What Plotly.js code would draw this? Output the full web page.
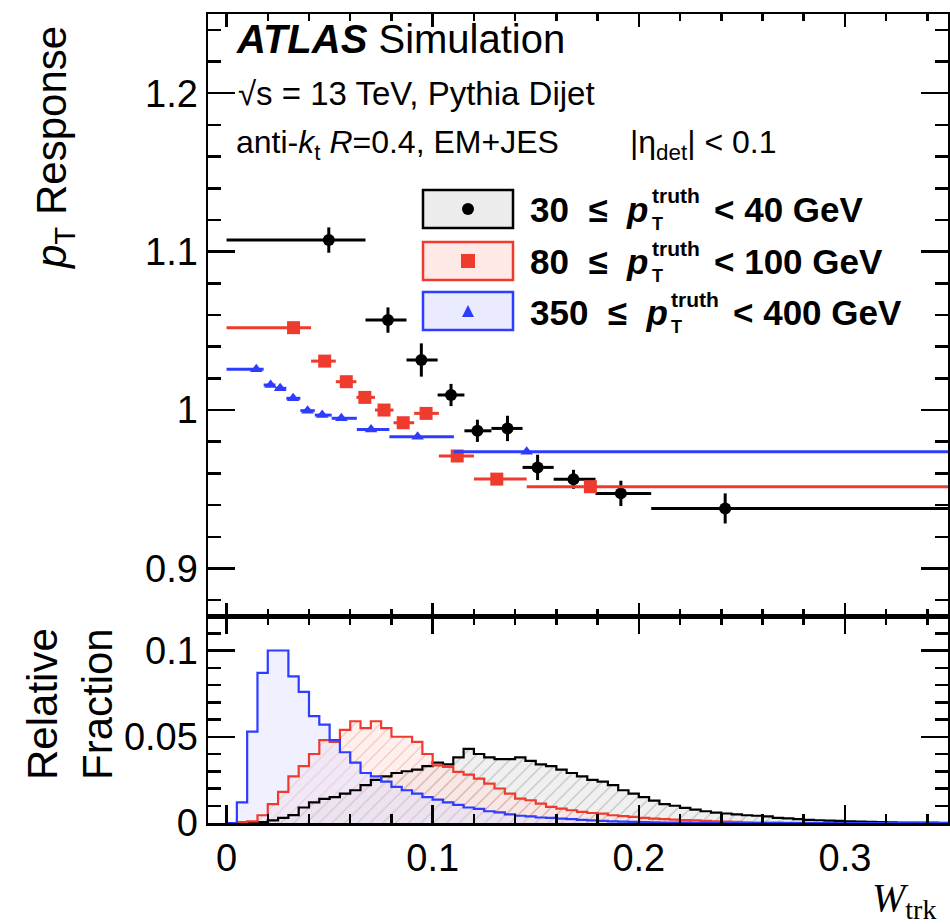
<!DOCTYPE html>
<html>
<head>
<meta charset="utf-8">
<script src="https://cdn.plot.ly/plotly-3.0.1.min.js"></script>
<style>
  html, body { margin: 0; padding: 0; background: #fff; }
  #chart { width: 950px; height: 924px; }
</style>
</head>
<body>
<div id="chart"></div>
<script>
// ---- pT response vs W_trk, three truth-pT bins ----
const seriesNames = ['30 ≤ p_T^truth < 40 GeV', '80 ≤ p_T^truth < 100 GeV', '350 ≤ p_T^truth < 400 GeV'];

// 30 <= pT < 40 GeV
const lowX     = [0.0496, 0.0783, 0.0945, 0.1089, 0.1217, 0.1363, 0.1509, 0.1683, 0.1913, 0.2419];
const lowY     = [1.1073, 1.0568, 1.0316, 1.0095, 0.9869, 0.9884, 0.9638, 0.9563, 0.9474, 0.9379];
const lowYErr  = [0.008, 0.008, 0.0105, 0.007, 0.007, 0.008, 0.008, 0.006, 0.008, 0.0095];
const lowBinLo = [0.0, 0.0674, 0.0873, 0.1024, 0.1154, 0.1285, 0.1436, 0.1587, 0.179, 0.206];
const lowBinHi = [0.0674, 0.0873, 0.1024, 0.1154, 0.1285, 0.1436, 0.1587, 0.179, 0.206, 0.40];

// 80 <= pT < 100 GeV
const midX     = [0.0325, 0.0476, 0.0581, 0.0671, 0.0764, 0.0857, 0.0968, 0.1119, 0.1311, 0.1765];
const midY     = [1.0520, 1.0309, 1.0179, 1.0080, 1.0000, 0.9920, 0.9979, 0.9710, 0.9564, 0.9516];
const midBinLo = [0.0, 0.041, 0.053, 0.063, 0.072, 0.081, 0.091, 0.103, 0.120, 0.1456];
const midBinHi = [0.041, 0.053, 0.063, 0.072, 0.081, 0.091, 0.103, 0.120, 0.1456, 0.40];

// 350 <= pT < 400 GeV
const highX     = [0.0144, 0.0214, 0.0260, 0.0323, 0.0393, 0.0464, 0.0557, 0.0701, 0.0927, 0.1456];
const highY     = [1.0257, 1.0158, 1.0137, 1.0074, 0.9996, 0.9968, 0.9948, 0.9878, 0.9831, 0.9737];
const highBinLo = [0.0, 0.018, 0.0237, 0.029, 0.0358, 0.0428, 0.051, 0.0632, 0.079, 0.1103];
const highBinHi = [0.018, 0.0237, 0.029, 0.0358, 0.0428, 0.051, 0.0632, 0.079, 0.1103, 0.40];

// ---- relative fraction of jets per W_trk bin (bin width 0.005, from 0) ----
const fracBinWidth = 0.005;
const fracLow = [0, 0, 0, 0.0005, 0.0015, 0.003, 0.0046, 0.009, 0.012, 0.014,
  0.015, 0.017, 0.019, 0.022, 0.025, 0.027, 0.029, 0.030, 0.031, 0.033,
  0.035, 0.034, 0.038, 0.043, 0.040, 0.038, 0.037, 0.037, 0.038, 0.036,
  0.034, 0.033, 0.031, 0.029, 0.027, 0.025, 0.024, 0.022, 0.019, 0.017,
  0.015, 0.013, 0.011, 0.010, 0.0088, 0.0078, 0.0068, 0.006, 0.0055, 0.005,
  0.0045, 0.0042, 0.0038, 0.003, 0.0027, 0.0022, 0.0018, 0.0016, 0.0014, 0.0012,
  0.001, 0.0008, 0.0007, 0.0005, 0.0004, 0.0003, 0.0003, 0.0002, 0.0002, 0.0001];
const fracMid = [0, 0.0005, 0.001, 0.0045, 0.011, 0.018, 0.027, 0.033, 0.040, 0.048,
  0.047, 0.054, 0.059, 0.055, 0.059, 0.055, 0.050, 0.050, 0.047, 0.040,
  0.0334, 0.0325, 0.0296, 0.028, 0.0257, 0.0228, 0.020, 0.017, 0.0141, 0.0132,
  0.0112, 0.0093, 0.0083, 0.0074, 0.0064, 0.0058, 0.0054, 0.0045, 0.004, 0.0035,
  0.003, 0.0025, 0.0022, 0.002, 0.0017, 0.0015, 0.0012, 0.001, 0.0008, 0.0006,
  0.0004, 0.0003, 0.0002, 0.0002, 0.0001, 0.0001, 0.0001, 0, 0, 0,
  0, 0, 0, 0, 0, 0, 0, 0, 0, 0];
const fracHigh = [0, 0.012, 0.053, 0.087, 0.100, 0.100, 0.085, 0.076, 0.062, 0.057,
  0.048, 0.041, 0.035, 0.029, 0.027, 0.024, 0.021, 0.019, 0.017, 0.015,
  0.0135, 0.012, 0.0105, 0.009, 0.0082, 0.0068, 0.0062, 0.005, 0.0042, 0.0038,
  0.0032, 0.003, 0.0025, 0.0022, 0.0018, 0.0015, 0.0012, 0.001, 0.0008, 0.0006,
  0.0005, 0.0004, 0.0003, 0.0002, 0.0002, 0.0001, 0.0001, 0, 0, 0,
  0, 0, 0, 0, 0, 0, 0, 0, 0, 0,
  0, 0, 0, 0, 0, 0, 0, 0, 0, 0];

// ---- styling ----
const BLACK = '#000000', RED = '#ee3b2e', BLUE = '#2d3cff';
const FONT = 'Liberation Sans, Arial, Helvetica, sans-serif';

function errPlus(x, hi) { return x.map((v, i) => hi[i] - v); }
function errMinus(x, lo) { return x.map((v, i) => v - lo[i]); }

// step outline of a histogram: bin low edges plus the closing edge
function stepXY(vals) {
  const xs = vals.map((_, i) => i * fracBinWidth);
  xs.push(vals.length * fracBinWidth);
  const ys = vals.slice();
  ys.push(vals[vals.length - 1]);
  return { xs, ys };
}
function stepFill(vals, fillcolor, pattern) {
  const s = stepXY(vals);
  const t = {
    x: s.xs, y: s.ys, xaxis: 'x', yaxis: 'y2', type: 'scatter', mode: 'lines',
    line: { shape: 'hv', width: 0, color: 'rgba(0,0,0,0)' },
    fill: 'tozeroy', fillcolor: fillcolor, hoverinfo: 'skip', showlegend: false
  };
  if (pattern) t.fillpattern = pattern;
  return t;
}
function stepLine(vals, color) {
  const s = stepXY(vals);
  return {
    x: s.xs, y: s.ys, xaxis: 'x', yaxis: 'y2', type: 'scatter', mode: 'lines',
    line: { shape: 'hv', color: color, width: 2.2 }, hoverinfo: 'skip', showlegend: false
  };
}

const traces = [
  stepFill(fracLow, 'rgba(236,236,236,0.8)',
    { shape: '/', bgcolor: 'rgba(236,236,236,0.8)', fgcolor: 'rgba(120,120,120,0.45)', size: 9, solidity: 0.12 }),
  stepFill(fracMid, 'rgba(255,222,218,0.45)',
    { shape: '/', bgcolor: 'rgba(255,222,218,0.45)', fgcolor: 'rgba(220,90,80,0.35)', size: 9, solidity: 0.12 }),
  stepFill(fracHigh, 'rgba(222,222,255,0.45)', null),
  stepLine(fracLow, BLACK),
  stepLine(fracMid, RED),
  stepLine(fracHigh, BLUE),

  { // 30-40 GeV response
    x: lowX, y: lowY, xaxis: 'x2', yaxis: 'y', type: 'scatter', mode: 'markers', name: seriesNames[0],
    marker: { symbol: 'circle', size: 12, color: BLACK },
    error_x: { type: 'data', symmetric: false, array: errPlus(lowX, lowBinHi), arrayminus: errMinus(lowX, lowBinLo),
               thickness: 3, width: 0, color: BLACK },
    error_y: { type: 'data', array: lowYErr, thickness: 3, width: 0, color: BLACK },
    showlegend: false
  },
  { // 80-100 GeV response
    x: midX, y: midY, xaxis: 'x2', yaxis: 'y', type: 'scatter', mode: 'markers', name: seriesNames[1],
    marker: { symbol: 'square', size: 13, color: RED },
    error_x: { type: 'data', symmetric: false, array: errPlus(midX, midBinHi), arrayminus: errMinus(midX, midBinLo),
               thickness: 3, width: 0, color: RED },
    showlegend: false
  },
  { // 350-400 GeV response
    x: highX, y: highY, xaxis: 'x2', yaxis: 'y', type: 'scatter', mode: 'markers', name: seriesNames[2],
    marker: { symbol: 'triangle-up', size: 11, color: BLUE },
    error_x: { type: 'data', symmetric: false, array: errPlus(highX, highBinHi), arrayminus: errMinus(highX, highBinLo),
               thickness: 3, width: 0, color: BLUE },
    showlegend: false
  }
];

// ---- layout helpers (pixel -> paper) ----
const ML = 208, MT = 14, PW = 740, PH = 809, FIGH = 924;
const px = v => (v - ML) / PW;
const py = v => (MT + PH - v) / PH;

function txt(text, x, y, size, opts) {
  return Object.assign({
    text: text, xref: 'paper', yref: 'paper', x: px(x), y: py(y),
    xanchor: 'left', yanchor: 'middle', showarrow: false,
    font: { family: FONT, size: size, color: '#000' }
  }, opts || {});
}

const bottomFrac = 207 / 809;
const axisCommon = {
  showline: true, linecolor: '#000', linewidth: 2.5, mirror: 'allticks',
  ticks: 'inside', tickcolor: '#000', tickwidth: 2.5, showgrid: false, zeroline: false,
  tickfont: { family: FONT, size: 38, color: '#000' }
};

const annotations = [
  txt('<b><i>ATLAS</i></b> Simulation', 234, 39, 40),
  txt('√s = 13 TeV, Pythia Dijet', 236, 94, 33),
  txt('anti-<i>k</i><sub>t</sub> <i>R</i>=0.4, EM+JES', 234, 145, 32),
  txt('|η<sub>det</sub>| < 0.1', 628, 145, 32),

  txt('<b>30  ≤  <i>p</i></b>', 528, 209, 35),
  txt('<b>truth</b>', 650, 196, 21),
  txt('<b>T</b>', 650, 224, 18),
  txt('<b>< 40 GeV</b>', 712, 209, 35),

  txt('<b>80  ≤  <i>p</i></b>', 528, 261, 35),
  txt('<b>truth</b>', 650, 248, 21),
  txt('<b>T</b>', 650, 276, 18),
  txt('<b>< 100 GeV</b>', 712, 261, 35),

  txt('<b>350  ≤  <i>p</i></b>', 528, 312, 35),
  txt('<b>truth</b>', 669, 299, 21),
  txt('<b>T</b>', 669, 327, 18),
  txt('<b>< 400 GeV</b>', 731, 312, 35),

  txt('<i>p</i><sub>T</sub> Response', 54, 148, 42, { xanchor: 'center', textangle: -90 }),
  txt('Relative<br>Fraction', 70, 704, 42, { xanchor: 'center', textangle: -90 }),
  txt('<i>W</i><sub>trk</sub>', 938, 900, 40,
      { xanchor: 'right', font: { family: 'Liberation Serif, DejaVu Serif, serif', size: 40, color: '#000' } })
];

// legend boxes and their markers
const shapes = [];
const boxRows = [
  { y0: 190, y1: 228, line: BLACK, fill: 'rgba(228,228,228,0.7)' },
  { y0: 242, y1: 280, line: RED,   fill: 'rgba(255,215,210,0.55)' },
  { y0: 292, y1: 330, line: BLUE,  fill: 'rgba(222,222,255,0.6)' }
];
boxRows.forEach(r => shapes.push({
  type: 'rect', xref: 'paper', yref: 'paper', x0: px(423), x1: px(513), y0: py(r.y1), y1: py(r.y0),
  line: { color: r.line, width: 2.5 }, fillcolor: r.fill, layer: 'above'
}));
shapes.push({ type: 'circle', xref: 'paper', yref: 'paper', x0: px(462), x1: px(474), y0: py(215), y1: py(203),
  line: { width: 0 }, fillcolor: BLACK });
shapes.push({ type: 'rect', xref: 'paper', yref: 'paper', x0: px(461), x1: px(475), y0: py(268), y1: py(254),
  line: { width: 0 }, fillcolor: RED });
shapes.push({ type: 'path', xref: 'paper', yref: 'paper',
  path: `M ${px(462)} ${py(317)} L ${px(474)} ${py(317)} L ${px(468)} ${py(305)} Z`,
  line: { width: 0 }, fillcolor: BLUE });

const layout = {
  width: 950, height: FIGH,
  margin: { l: ML, r: 950 - ML - PW, t: MT, b: FIGH - MT - PH, pad: 0 },
  paper_bgcolor: '#fff', plot_bgcolor: 'rgba(0,0,0,0)',
  showlegend: false,
  font: { family: FONT, color: '#000' },
  xaxis: Object.assign({}, axisCommon, {
    domain: [0, 1], anchor: 'y2', range: [-0.009, 0.35],
    tickvals: [0, 0.1, 0.2, 0.3], ticktext: ['0', '0.1', '0.2', '0.3'], ticklen: 18,
    minor: { dtick: 0.02, tick0: 0, ticks: 'inside', ticklen: 9, tickwidth: 2.5, tickcolor: '#000' }
  }),
  xaxis2: Object.assign({}, axisCommon, {
    domain: [0, 1], anchor: 'y', matches: 'x', range: [-0.009, 0.35], showticklabels: false,
    tickvals: [0, 0.1, 0.2, 0.3], ticklen: 13,
    minor: { dtick: 0.02, tick0: 0, ticks: 'inside', ticklen: 7, tickwidth: 2.5, tickcolor: '#000' }
  }),
  yaxis: Object.assign({}, axisCommon, {
    domain: [bottomFrac, 1], anchor: 'x2', range: [0.87, 1.25],
    tickvals: [0.9, 1.0, 1.1, 1.2], ticktext: ['0.9', '1', '1.1', '1.2'], ticklen: 27,
    minor: { dtick: 0.02, tick0: 0.9, ticks: 'inside', ticklen: 13, tickwidth: 2.5, tickcolor: '#000' }
  }),
  yaxis2: Object.assign({}, axisCommon, {
    domain: [0, bottomFrac], anchor: 'x', range: [0, 0.12],
    tickvals: [0, 0.05, 0.1], ticktext: ['0', '0.05', '0.1'], ticklen: 27,
    minor: { dtick: 0.01, tick0: 0, ticks: 'inside', ticklen: 13, tickwidth: 2.5, tickcolor: '#000' }
  }),
  annotations: annotations,
  shapes: shapes
};

Plotly.newPlot('chart', traces, layout, { staticPlot: true, displayModeBar: false });
</script>
</body>
</html>
